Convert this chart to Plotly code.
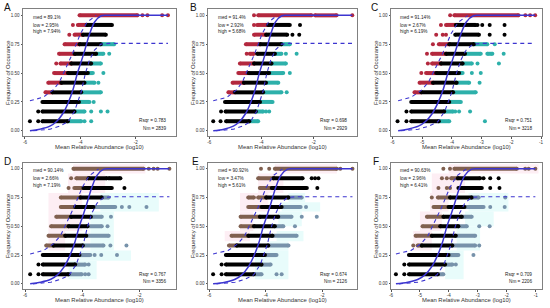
import plotly.graph_objects as go

ROWS = [1.0, 0.917, 0.833, 0.75, 0.667, 0.583, 0.5, 0.417, 0.333, 0.25, 0.167, 0.083]
PANELS = ["A", "B", "C", "D", "E", "F"]
X_TICKS_SPARSE = [-6, -4, -2]
X_TICKS_DENSE = [-6, -5, -4, -3, -2, -1]
Y_TICKS = [0, 0.25, 0.5, 0.75, 1.0]
Y_LABELS = ["0.00", "0.25", "0.50", "0.75", "1.00"]
X_TITLE = "Mean Relative Abundance (log10)"
Y_TITLE = "Frequency of Occurance"

# Each row: tuples are continuous runs of points, floats are single points.
A_red = [[(-4.03, -1.94), -1.76, -1.58, -1.05, -0.84], [-4.27, (-4.09, -3.77)], [-4.40, (-4.21, -3.91)], [(-4.57, -4.03)],
         [(-4.77, -4.21)], [-4.87, (-4.72, -4.33)], [(-4.95, -4.45)], [(-5.16, -4.69)], [(-5.26, -5.01)], [], [], []]
A_black = [[], [(-3.77, -2.86)], [(-3.91, -3.08)], [(-4.03, -3.26)], [(-4.21, -3.43)], [(-4.33, -3.61)], [(-4.45, -3.73)],
           [(-4.69, -3.85)], [(-5.01, -3.97)], [(-5.37, -4.05)], [-5.52, (-5.37, -4.21)], [-5.82, -5.52, (-5.37, -4.45)]]
A_teal = [[], [], [], [(-3.26, -2.78)], [(-3.43, -3.17), -2.96], [(-3.61, -3.26)], [(-3.73, -3.55), -3.17],
          [(-3.85, -3.49), -3.35], [(-3.97, -3.26)], [(-4.05, -3.67), -3.52], [(-4.21, -3.85), -3.61, -3.26, -3.02],
          [(-4.45, -3.97), -3.85, -3.61]]

B_red = [[-4.29, (-4.13, -2.09), (-1.96, -1.13), -0.53], [-4.29, (-4.17, -3.75)], [(-4.29, -3.83)], [(-4.60, -4.06)],
         [-4.57, (-4.45, -4.29)], [(-4.83, -4.29)], [(-4.89, -4.51)], [(-5.11, -4.68)], [(-5.27, -5.02)], [], [], []]
B_black = [[], [(-3.75, -2.92), -2.53], [(-3.83, -3.02), -2.82, -2.56], [(-4.06, -3.24)], [(-4.17, -3.49)], [(-4.29, -3.62)],
           [(-4.51, -3.71)], [(-4.68, -3.83)], [(-5.02, -3.94)], [(-5.40, -4.06)], [-5.55, (-5.38, -4.22)],
           [-5.85, -5.57, (-5.36, -4.47)]]
B_teal = [[], [], [], [(-3.24, -2.92)], [(-3.49, -3.24), -3.07, -2.66], [(-3.62, -3.07)], [(-3.71, -3.17), -2.92],
          [(-3.83, -3.36)], [(-3.94, -3.24), -3.04], [(-4.06, -3.58)], [(-4.22, -3.94), -3.83, -3.71], [(-4.47, -4.13)]]

C_red = [[-4.06, (-3.92, -1.76), -1.53, -1.37, -1.20], [-4.37, (-4.20, -3.87)], [-4.53, -4.31, -4.20], [-4.64, (-4.44, -4.09)],
         [-4.84, (-4.67, -4.20)], [-4.81, (-4.67, -4.37)], [-5.03, (-4.87, -4.53)], [(-5.09, -4.64)], [(-5.26, -5.03)], [], [], []]
C_black = [[], [(-3.87, -3.20), -3.14, -2.98, -2.73, -2.23], [(-3.89, -3.09), -2.73, -2.23], [(-4.09, -3.26)], [(-4.20, -3.56)],
           [(-4.37, -3.64)], [(-4.53, -3.76)], [(-4.64, -3.84)], [(-5.03, -3.96)], [(-5.37, -4.09)], [-5.53, (-5.37, -4.26)],
           [-5.83, -5.53, (-5.37, -4.44)]]
C_teal = [[], [], [], [(-3.26, -2.81), -2.56], [(-3.56, -3.03), (-2.81, -2.64), -2.26], [(-3.64, -3.33), -3.14, -2.42],
          [(-3.76, -3.64), -3.33, -3.03], [(-3.84, -3.42), -3.07], [(-3.96, -3.20)], [(-4.09, -3.70)],
          [(-4.26, -3.96), -3.89, -3.76, -3.39], [(-4.44, -4.09), -2.89]]

D_red = [[(-4.31, -1.86), -1.68, -1.51, -1.37, -0.96], [-4.39, (-4.21, -3.78)], [-4.48, (-4.28, -3.96)], [(-4.75, -4.07)],
         [(-4.75, -4.25)], [(-4.91, -4.40)], [(-5.09, -4.48)], [(-5.18, -4.60)], [(-5.26, -5.01)], [], [], []]
D_black = [[], [(-3.78, -3.14), (-3.08, -2.67)], [(-3.96, -2.97), -2.53], [(-4.07, -3.32)], [(-4.25, -3.61)], [(-4.40, -3.70)],
           [(-4.48, -3.82)], [(-4.60, -3.86)], [(-5.01, -3.98)], [(-5.38, -4.10)], [-5.53, (-5.38, -4.25)],
           [-5.82, -5.53, (-5.38, -4.48)]]
D_teal = [[], [], [], [(-3.32, -3.08)], [(-3.61, -2.85), -2.62, -2.36, -1.76], [(-3.70, -3.32), -3.00], [(-3.82, -3.32), -3.12],
          [(-3.86, -3.08)], [(-3.98, -3.26), -3.02, -2.46], [(-4.10, -3.72), -3.57, -3.34, -2.79], [(-4.25, -3.90), -3.78],
          [(-4.48, -4.02), -3.90, -3.78]]

E_red = [[-4.17, -3.88, (-3.68, -1.49), -1.37, -0.94], [(-4.27, -3.73)], [(-4.21, -3.79)], [(-4.62, -4.42), (-4.27, -3.99)],
         [(-4.62, -4.15)], [(-4.89, -4.21)], [(-4.89, -4.42)], [(-5.21, -4.62)], [(-5.30, -5.03)], [], [], []]
E_black = [[], [(-3.73, -2.70), -2.38, -2.26, -2.14], [(-3.79, -2.55), -2.18], [(-3.99, -3.20)], [(-4.15, -3.44)], [(-4.21, -3.56)],
           [(-4.42, -3.68)], [(-4.62, -3.76)], [(-5.03, -3.91)], [(-5.41, -4.03)], [-5.56, (-5.41, -4.15)],
           [-5.86, -5.56, (-5.41, -4.42)]]
E_teal = [[], [], [], [(-3.20, -2.73)], [(-3.44, -2.77), -2.58], [(-3.56, -3.09), -2.73, -2.20], [(-3.68, -3.38), -2.97],
          [(-3.76, -2.91)], [(-3.91, -3.20)], [(-4.03, -3.62)], [(-4.15, -3.83)], [(-4.42, -4.15), -3.62, -3.44]]

F_red = [[-4.19, -3.96, (-3.81, -1.65), -1.36, -1.24, -1.01], [-4.24, -4.07, (-3.92, -3.69)], [-4.36, -4.07, -3.96],
         [-4.59, (-4.38, -3.96)], [(-4.53, -4.01)], [(-4.76, -4.19)], [(-4.91, -4.30)], [(-5.15, -4.59)],
         [-5.23, (-5.08, -4.94)], [], [], []]
F_black = [[], [(-3.69, -2.92), -2.80, -2.57, -2.28], [(-3.67, -2.86), -2.57, -2.25], [(-3.96, -3.21)], [(-4.01, -3.46)],
           [(-4.19, -3.55)], [(-4.30, -3.67)], [(-4.59, -3.76)], [(-4.94, -3.88)], [(-5.38, -4.01)], [-5.54, (-5.38, -4.13)],
           [-5.83, -5.54, (-5.38, -4.38)]]
F_teal = [[], [], [], [(-3.21, -2.97), -2.05], [(-3.46, -2.80), -2.57, -2.07], [(-3.55, -3.21)], [(-3.67, -3.38), -2.95, -2.59],
          [(-3.76, -3.09)], [(-3.88, -3.09), -2.95], [(-4.01, -3.67), -3.15], [(-4.13, -3.88), -3.76], [(-4.38, -4.19)]]

# Neutral-model fit and its confidence limits
FIT_Y = [0, 0.014, 0.04, 0.078, 0.15, 0.237, 0.353, 0.497, 0.584, 0.699, 0.844, 0.945, 0.997, 1, 1]
UP_Y = [0.26, 0.29, 0.35, 0.42, 0.52, 0.66, 0.84, 0.94, 1.0]
LOW_Y = [0, 0.014, 0.04, 0.078, 0.17, 0.338, 0.497, 0.613, 0.70, 0.751, 0.757, 0.757]

A_fit_x = [-5.82, -5.46, -5.10, -4.87, -4.63, -4.45, -4.27, -4.11, -3.99, -3.84, -3.66, -3.48, -3.25, -2.95, -0.84]
B_fit_x = [-5.85, -5.44, -5.08, -4.85, -4.61, -4.43, -4.25, -4.09, -3.97, -3.82, -3.64, -3.46, -3.23, -2.93, -0.53]
C_fit_x = [-5.81, -5.49, -5.13, -4.90, -4.66, -4.48, -4.30, -4.14, -4.02, -3.87, -3.69, -3.51, -3.28, -2.98, -1.20]
D_fit_x = [-5.82, -5.46, -5.10, -4.87, -4.63, -4.45, -4.27, -4.11, -3.99, -3.84, -3.66, -3.48, -3.25, -2.95, -0.96]
E_fit_x = [-5.86, -5.44, -5.08, -4.85, -4.61, -4.43, -4.25, -4.09, -3.97, -3.82, -3.64, -3.46, -3.23, -2.93, -0.94]
F_fit_x = [-5.83, -5.42, -5.06, -4.83, -4.59, -4.41, -4.23, -4.07, -3.95, -3.80, -3.62, -3.44, -3.21, -2.91, -1.01]

A_up_x = [-5.82, -5.35, -5.00, -4.76, -4.57, -4.30, -4.00, -3.76, -3.43]
B_up_x = [-5.85, -5.33, -4.98, -4.74, -4.55, -4.28, -3.98, -3.74, -3.41]
C_up_x = [-5.81, -5.38, -5.03, -4.79, -4.60, -4.33, -4.03, -3.79, -3.46]
D_up_x = [-5.82, -5.35, -5.00, -4.76, -4.57, -4.30, -4.00, -3.76, -3.43]
E_up_x = [-5.86, -5.33, -4.98, -4.74, -4.55, -4.28, -3.98, -3.74, -3.41]
F_up_x = [-5.83, -5.31, -4.96, -4.72, -4.53, -4.26, -3.96, -3.72, -3.39]

A_low_x = [-5.70, -5.10, -4.75, -4.45, -4.21, -3.97, -3.82, -3.67, -3.49, -3.26, -2.96, -0.84]
B_low_x = [-5.74, -5.08, -4.73, -4.43, -4.19, -3.95, -3.80, -3.65, -3.47, -3.24, -2.94, -0.53]
C_low_x = [-5.72, -5.13, -4.78, -4.48, -4.24, -4.00, -3.85, -3.70, -3.52, -3.29, -2.99, -1.20]
D_low_x = [-5.72, -5.10, -4.75, -4.45, -4.21, -3.97, -3.82, -3.67, -3.49, -3.26, -2.96, -0.96]
E_low_x = [-5.74, -5.08, -4.73, -4.43, -4.19, -3.95, -3.80, -3.65, -3.47, -3.24, -2.94, -0.94]
F_low_x = [-5.72, -5.06, -4.71, -4.41, -4.17, -3.93, -3.78, -3.63, -3.45, -3.22, -2.92, -1.01]

A_stats = ["med = 89.1%", "low = 2.95%", "high = 7.94%", "Rsqr = 0.783", "Nm = 2839"]
B_stats = ["med = 91.4%", "low = 2.92%", "high = 5.68%", "Rsqr = 0.698", "Nm = 2929"]
C_stats = ["med = 91.14%", "low = 2.67%", "high = 6.19%", "Rsqr = 0.751", "Nm = 3218"]
D_stats = ["med = 90.14%", "low = 2.66%", "high = 7.19%", "Rsqr = 0.767", "Nm = 3356"]
E_stats = ["med = 90.92%", "low = 3.47%", "high = 5.61%", "Rsqr = 0.674", "Nm = 2126"]
F_stats = ["med = 90.63%", "low = 2.96%", "high = 6.41%", "Rsqr = 0.709", "Nm = 2206"]

# Pale background bands: x0, x1, y0, y1
D_pink = [(-4.31, -1.80, 0.96, 1.04), (-4.50, -3.20, 0.79, 0.96), (-5.18, -4.00, 0.46, 0.79), (-5.18, -4.60, 0.29, 0.46)]
D_cyan = [(-3.37, -1.33, 0.63, 0.79), (-3.72, -2.90, 0.29, 0.63), (-4.10, -2.30, 0.20, 0.29), (-4.48, -3.50, 0.04, 0.20)]
E_pink = [(-3.68, -1.49, 0.96, 1.04), (-4.27, -3.38, 0.79, 0.96), (-4.91, -3.91, 0.63, 0.79), (-4.91, -4.44, 0.46, 0.63),
          (-5.45, -4.56, 0.37, 0.46)]
E_cyan = [(-3.20, -2.61, 0.71, 0.79), (-3.44, -2.08, 0.63, 0.71), (-3.56, -2.73, 0.50, 0.63), (-3.62, -2.67, 0.37, 0.46),
          (-3.85, -3.20, 0.29, 0.37), (-4.38, -3.20, 0.04, 0.29)]
F_pink = [(-4.01, -0.90, 0.96, 1.04), (-4.59, -3.44, 0.79, 0.96), (-4.65, -4.01, 0.63, 0.79), (-5.00, -4.24, 0.46, 0.63),
          (-5.23, -4.59, 0.29, 0.46)]
F_cyan = [(-3.32, -1.94, 0.63, 0.79), (-3.44, -2.45, 0.50, 0.63), (-3.73, -2.92, 0.29, 0.50), (-4.13, -3.49, 0.04, 0.29)]

RED = "#b3283e"
TEAL = "#2db0aa"
BROWN = "#80604f"
SLATE = "#7792aa"
BLACK = "#000000"
BLUE = "#3c35d0"
FRAME = "#808080"
FONT = "Liberation Sans"
W, H = 550, 308
DOT = 4

# px box (left, right, top, bottom) and x range per panel
BOX = {"A": (23, 176, 9, 136), "B": (208, 357, 9, 136), "C": (391, 542, 9, 136),
       "D": (23, 176, 162.5, 289), "E": (208, 357, 162.5, 289), "F": (391, 542, 162.5, 289)}
XR = {"A": (-6.07, -0.55), "B": (-6.05, -0.35), "C": (-6.05, -0.97),
      "D": (-6.07, -0.73), "E": (-6.04, -0.78), "F": (-6.0, -0.78)}
YR = (-0.045, 1.055)
LETTER_X = {"A": 3, "B": 189, "C": 370, "D": 3, "E": 191, "F": 372}

SRC = {p: {k: globals()[f"{p}_{k}"] for k in
           ["red", "black", "teal", "fit_x", "up_x", "low_x", "stats"]} for p in PANELS}
BANDS = {"D": (D_pink, D_cyan), "E": (E_pink, E_cyan), "F": (F_pink, F_cyan)}


def flat(rows):
    xs, ys = [], []
    for y, row in zip(ROWS, rows):
        for v in row:
            if isinstance(v, tuple):
                xs += [v[0], v[1], None]
                ys += [y, y, None]
            else:
                xs += [v, None]
                ys += [y, None]
    return xs, ys


fig = go.Figure()
shapes, notes = [], []
for i, p in enumerate(PANELS, start=1):
    d = SRC[p]
    xa, ya = f"x{i}", f"y{i}"
    l, r, t, b = BOX[p]
    lower_row = p in BANDS
    for rows, col in ((d["red"], BROWN if lower_row else RED),
                      (d["teal"], SLATE if lower_row else TEAL),
                      (d["black"], BLACK)):
        xs, ys = flat(rows)
        fig.add_trace(go.Scatter(x=xs, y=ys, xaxis=xa, yaxis=ya, mode="lines+markers",
                                 line=dict(color=col, width=DOT),
                                 marker=dict(color=col, size=DOT, line=dict(width=0)),
                                 connectgaps=False, hoverinfo="skip", showlegend=False))
    fig.add_trace(go.Scatter(x=d["fit_x"], y=FIT_Y, xaxis=xa, yaxis=ya, mode="lines",
                             line=dict(color=BLUE, width=1.5, shape="spline"), showlegend=False))
    fig.add_trace(go.Scatter(x=d["up_x"], y=UP_Y, xaxis=xa, yaxis=ya, mode="lines",
                             line=dict(color=BLUE, width=1.1, dash="4px,3.5px"), showlegend=False))
    fig.add_trace(go.Scatter(x=d["low_x"], y=LOW_Y, xaxis=xa, yaxis=ya, mode="lines",
                             line=dict(color=BLUE, width=1.1, dash="4px,3.5px"), showlegend=False))

    tickvals = X_TICKS_DENSE if p in ("C", "F") else X_TICKS_SPARSE
    axis_common = dict(showgrid=False, zeroline=False, showline=True, mirror=True, linecolor=FRAME, linewidth=1,
                       ticks="outside", ticklen=1.5, tickwidth=0.6, tickcolor="#555555", automargin=False,
                       tickfont=dict(family=FONT, size=4.5, color="#333333"))
    fig.update_layout({
        f"xaxis{i}": dict(axis_common, domain=[l / W, r / W], range=list(XR[p]), anchor=ya, tickvals=tickvals,
                          ticktext=[str(v) for v in tickvals]),
        f"yaxis{i}": dict(axis_common, domain=[1 - b / H, 1 - t / H], range=list(YR), anchor=xa, tickvals=Y_TICKS,
                          ticktext=Y_LABELS),
    })
    notes.append(dict(text=X_TITLE, x=(l + r) / 2 / W, y=1 - (b + 11) / H, xref="paper", yref="paper",
                      xanchor="center", yanchor="middle", showarrow=False,
                      font=dict(family=FONT, size=5.9, color="#333333")))
    notes.append(dict(text=Y_TITLE, x=(l - 15.5) / W, y=1 - (t + b) / 2 / H, xref="paper", yref="paper",
                      xanchor="center", yanchor="middle", showarrow=False, textangle=-90,
                      font=dict(family=FONT, size=5.9, color="#333333")))

    if p in BANDS:
        for group, colour in zip(BANDS[p], ("#fdeef4", "#e8fcfb")):
            for x0, x1, y0, y1 in group:
                shapes.append(dict(type="rect", xref=xa, yref=ya, x0=x0, x1=x1, y0=y0, y1=y1,
                                   fillcolor=colour, line=dict(width=0), layer="below"))

    for txt, yy in zip(d["stats"][:3], (8.3, 16, 22.7)):
        notes.append(dict(text=txt, x=(l + 7.5) / W, y=1 - (t + yy) / H, xref="paper", yref="paper",
                          xanchor="left", yanchor="middle", showarrow=False,
                          font=dict(family=FONT, size=4.7, color="#222222")))
    for txt, yy in zip(d["stats"][3:], (112, 119)):
        notes.append(dict(text=txt, x=(r - 8) / W, y=1 - (t + yy) / H, xref="paper", yref="paper",
                          xanchor="right", yanchor="middle", showarrow=False,
                          font=dict(family=FONT, size=4.7, color="#222222")))
    notes.append(dict(text=p, x=LETTER_X[p] / W, y=1 - (t - 1.5) / H, xref="paper", yref="paper",
                      xanchor="left", yanchor="middle", showarrow=False, borderpad=0,
                      font=dict(family=FONT, size=10, color="#111111")))

fig.update_layout(width=W, height=H, margin=dict(l=0, r=0, t=0, b=0, autoexpand=False), paper_bgcolor="white",
                  plot_bgcolor="white", showlegend=False, shapes=shapes, annotations=notes)
fig.write_html("out.html", config=dict(displayModeBar=False),
               post_script="document.body.style.margin='0';document.body.style.overflow='hidden';")
